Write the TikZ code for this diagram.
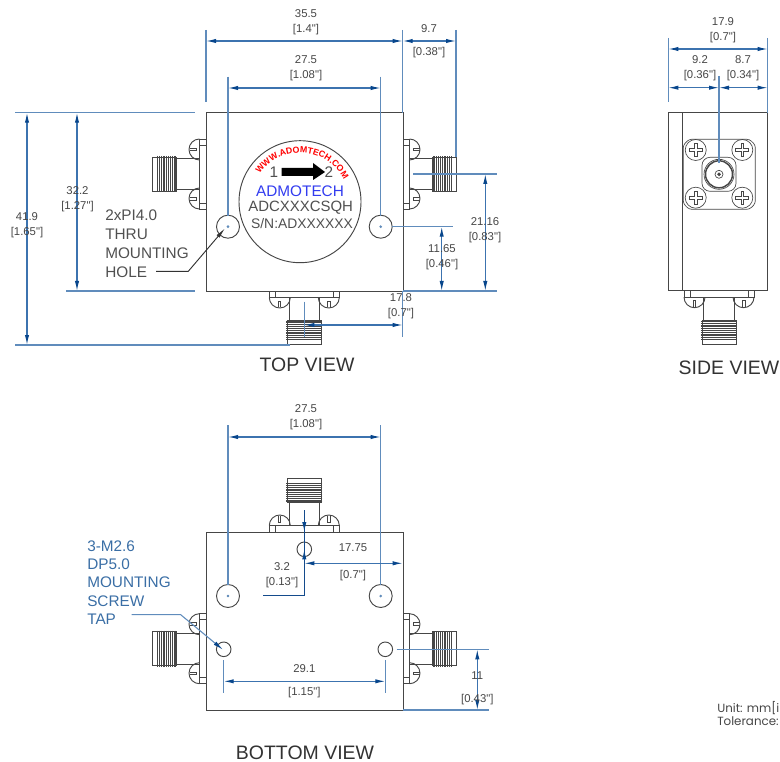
\documentclass[tikz,border=0pt]{standalone}
\usepackage{fontspec}
\newfontfamily\dwgfont{Liberation Sans}
\newfontfamily\notefont{Poppins}
\usetikzlibrary{arrows.meta,decorations.text}
\tikzset{
  body/.style={draw={rgb,255:red,70;green,70;blue,70},line width=0.7pt},
  ext/.style={draw={rgb,255:red,96;green,140;blue,188},line width=0.8pt},
  dimline/.style={draw={rgb,255:red,60;green,115;blue,175},line width=0.8pt,
    {Latex[length=7.5pt,width=3.2pt,color={rgb,255:red,8;green,70;blue,140}]}-{Latex[length=7.5pt,width=3.2pt,color={rgb,255:red,8;green,70;blue,140}]}},
  tipend/.style={draw={rgb,255:red,40;green,100;blue,165},line width=0.8pt,
    -{Latex[length=7.5pt,width=3.2pt,color={rgb,255:red,8;green,70;blue,140}]}},
  dimtext/.style={text={rgb,255:red,70;green,70;blue,70},font=\dwgfont\fontsize{8.5}{11}\selectfont,align=center,inner sep=0pt},
  marktext/.style={text={rgb,255:red,80;green,80;blue,80},font=\dwgfont\fontsize{11.5}{14.2}\selectfont,align=left,inner sep=0pt,anchor=west},
  viewtext/.style={text={rgb,255:red,50;green,50;blue,50},font=\dwgfont\fontsize{14.6}{17}\selectfont,inner sep=0pt},
  pics/portconn/.style={code={
    \draw[body,fill=white] (6.5,-35) arc[start angle=-90,end angle=90,radius=10.5];
    \draw[body,fill=white] (6.5,14) arc[start angle=-90,end angle=90,radius=10.5];
    \draw[body] (16.5,-26) -- (10,-26) -- (10,-23.5) -- (16.5,-23.5) (16.5,23.5) -- (10,23.5) -- (10,26) -- (16.5,26);
    \draw[body,fill=white] (0,-35) rectangle (6.5,35);
    \draw[body] (0,-29) -- (6.5,-29) (0,29) -- (6.5,29);
    \draw[body] (6.5,-15.3) -- (29.5,-15.3) (6.5,15.3) -- (29.5,15.3);
    \draw[body] (29.5,-17) -- (53.5,-17) -- (53.5,17) -- (29.5,17) -- cycle;
    \foreach \t in {31,33.2,35.4,37.6,39.8,42,44.2,46.4,48.6}
      \draw[body,line width=0.9pt] (\t,-18) -- (\t,18);
  }},
  pics/screwhead/.style={code={
    \draw[body,line width=0.5pt] (0,0) circle (10.5);
    \draw[body,line width=0.5pt] (-1.4,-6.5) -- (1.4,-6.5) -- (1.4,-1.4) -- (6.5,-1.4) -- (6.5,1.4) -- (1.4,1.4) -- (1.4,6.5) -- (-1.4,6.5) -- (-1.4,1.4) -- (-6.5,1.4) -- (-6.5,-1.4) -- (-1.4,-1.4) -- cycle;
  }},
}
\begin{document}
\begin{tikzpicture}[x=0.75pt,y=0.75pt,yscale=-1,xscale=1]
\useasboundingbox (0,0) rectangle (780,762);

%Top view body
\pic[rotate=0] at (403,174) {portconn};
\pic[rotate=180] at (206,174) {portconn};
\pic[rotate=-90] at (304.3,291) {portconn};
\draw[body,fill=white] (206,112.7) rectangle (403,291);
\draw[body,fill=white] (300,201.7) circle (61);
\draw[body] (228,226.7) circle (11.5) (380.7,226.7) circle (11.5);
\fill[ext] (228,226.7) circle (0.7) (380.7,226.7) circle (0.7);

%Marking on the round label
\begin{scope}[yscale=-1]
\path[decorate,decoration={text along path,text align=center,
  text={|\dwgfont\fontsize{6.6}{7}\selectfont\bfseries\color{red}|WWW.ADOMTECH.COM}}]
  (257.6,-177.2) arc[start angle=150,end angle=22,radius=49];
\end{scope}
\fill[black] (281.7,168) -- (313,168) -- (313,163) -- (325,172) -- (313,180) -- (313,176) -- (281.7,176) -- cycle;
\node[marktext,anchor=center] (portone) at (274,172) {1};
\node[marktext,anchor=center] (porttwo) at (329,172) {2};
\node[marktext,anchor=center,text={rgb,255:red,50;green,60;blue,240}] (brand) at (300,191) {ADMOTECH};
\node[marktext,anchor=center,font=\dwgfont\fontsize{11.2}{14}\selectfont] (model) at (300.7,207.7) {ADCXXXCSQH};
\node[marktext,anchor=center,font=\dwgfont\fontsize{10.4}{14}\selectfont] (serial) at (302,224) {S/N:ADXXXXXX};

%Top view leader
\node[marktext] (holetext) at (105,244) {2xPI4.0\\THRU\\MOUNTING\\HOLE};
\draw[draw={rgb,255:red,50;green,50;blue,50},line width=0.7pt,-{Latex[length=8pt,width=3pt]}] (156,271.3) -- (188.3,271.3) -- (225,228.3);

%Top view dimensions
\draw[ext] (206,30) -- (206,102) (402.7,30) -- (402.7,112.7) (456,30) -- (456,157);
\draw[dimline] (206,41) -- (402.7,41);
\draw[dimline] (402.7,41) -- (456,41);
\node[dimtext] (widthtop) at (306,22.5) {35.5\\{}[1.4"]};
\node[dimtext] (portout) at (429,41) {9.7\\[6pt]{}[0.38"]};
\draw[ext] (228,76.7) -- (228,215.7) (380.7,76.7) -- (380.7,215.7);
\draw[dimline] (228,88) -- (380.7,88);
\node[dimtext] (holetop) at (306,68.5) {27.5\\{}[1.08"]};
\draw[ext] (15,112.7) -- (195,112.7) (66,291) -- (195,291) (15,345) -- (290,345);
\draw[dimline] (27,112.7) -- (27,345);
\draw[dimline] (77,112.7) -- (77,291);
\node[dimtext] (heightall) at (27,225) {41.9\\{}[1.65"]};
\node[dimtext] (heightbody) at (77.5,199.5) {32.2\\{}[1.27"]};
\draw[ext] (391.7,226.7) -- (452.7,226.7) (413.3,174) -- (496.7,174) (403,291) -- (496.7,291);
\draw[dimline] (441.7,226.7) -- (441.7,291);
\draw[dimline] (485.3,174) -- (485.3,291);
\node[dimtext] (holebase) at (442,257.5) {11.65\\{}[0.46"]};
\node[dimtext] (portbase) at (485,230) {21.16\\{}[0.83"]};
\draw[ext] (304.3,301.7) -- (304.3,336.7) (402.7,291) -- (402.7,336.7);
\draw[dimline] (304.3,325) -- (402.7,325);
\node[dimtext] (portside) at (401,306) {17.8\\{}[0.7"]};
\node[viewtext] (topview) at (307,365) {TOP VIEW};

%Side view
\pic[rotate=-90] at (719,290.7) {portconn};
\draw[body,fill=white] (668.3,112.7) rectangle (767.7,290.7);
\draw[body] (682.3,112.7) -- (682.3,290.7);
\draw[body,line width=0.5pt,rounded corners=2pt] (689,139.3) -- (749.5,139.3) -- (755.3,145) -- (755.3,203.5) -- (749.5,209.3) -- (689,209.3) -- (683.3,203.5) -- (683.3,145) -- cycle;
\pic at (695.7,150) {screwhead};
\pic at (742.3,150) {screwhead};
\pic at (695.7,197.7) {screwhead};
\pic at (742.3,197.7) {screwhead};
\draw[body,line width=0.5pt,rounded corners=6pt] (702,157.3) rectangle (736,191.3);
\draw[body,line width=1.1pt] (719,174.3) circle (13.5);
\draw[body,line width=0.5pt] (719,174.3) circle (15);
\draw[body,line width=0.5pt] (719,174.3) circle (4);
\fill[body,fill={rgb,255:red,70;green,70;blue,70}] (719,174.3) circle (1.3);
\draw[ext] (668.3,38) -- (668.3,102) (767.7,38) -- (767.7,112.7) (719,76) -- (719,163);
\draw[dimline] (668.3,49) -- (767.7,49);
\draw[dimline] (668.3,87.7) -- (719,87.7);
\draw[dimline] (719,87.7) -- (767.7,87.7);
\node[dimtext] (widthside) at (723,30) {17.9\\{}[0.7"]};
\node[dimtext] (sideleft) at (700,68) {9.2\\{}[0.36"]};
\node[dimtext] (sideright) at (743,68) {8.7\\{}[0.34"]};
\node[viewtext] (sideview) at (729,368) {SIDE VIEW};

%Bottom view
\pic[rotate=0] at (403,648.7) {portconn};
\pic[rotate=180] at (206,648.7) {portconn};
\pic[rotate=90] at (304.3,532) {portconn};
\draw[body,fill=white] (206,532) rectangle (403,710);
\draw[body] (228,596) circle (11.5) (380.7,596) circle (11.5);
\fill[ext] (228,596) circle (0.7) (380.7,596) circle (0.7);
\draw[body] (223.7,649.3) circle (7.3) (385.3,649.3) circle (7.3) (304.3,549.3) circle (7.3);

%Bottom view dimensions
\draw[ext] (228,425) -- (228,584.5) (380.7,425) -- (380.7,584.5);
\draw[dimline] (228,437) -- (380.7,437);
\node[dimtext] (holebot) at (306,417.5) {27.5\\{}[1.08"]};
\draw[draw={rgb,255:red,20;green,75;blue,140},line width=0.8pt] (304.3,510) -- (304.3,595.7) -- (262.7,595.7);
\draw[tipend] (304.3,522) -- (304.3,532);
\draw[tipend] (304.3,559) -- (304.3,549.3);
\node[dimtext] (topgap) at (282,575.5) {3.2\\{}[0.13"]};
\draw[dimline] (304.3,563.3) -- (402.7,563.3);
\node[dimtext] (portgap) at (353,562.5) {17.75\\[9pt]{}[0.7"]};
\draw[ext] (223.7,660) -- (223.7,693.3) (385.3,660) -- (385.3,693.3);
\draw[dimline] (223.7,681.3) -- (385.3,681.3);
\node[dimtext] (tapspan) at (304.3,681.5) {29.1\\[6pt]{}[1.15"]};
\draw[ext] (396.7,649.3) -- (489,649.3) (403,710) -- (489,710);
\draw[dimline] (477.3,649.3) -- (477.3,710);
\node[dimtext] (tapbase) at (477.3,688.5) {11\\[6pt]{}[0.43"]};

%Bottom view leader
\node[marktext,text={rgb,255:red,58;green,110;blue,165},font=\dwgfont\fontsize{11.5}{13.7}\selectfont] (taptext) at (87,582.5) {3{-}M2.6\\DP5.0\\MOUNTING\\SCREW\\TAP};
\draw[ext,-{Latex[length=8pt,width=3pt,color={rgb,255:red,8;green,70;blue,140}]}] (131.7,614.7) -- (180.7,614.7) -- (223.3,650);
\node[viewtext] (bottomview) at (305,752.5) {BOTTOM VIEW};

%Notes
\node[dimtext,anchor=west,align=left,font=\notefont\fontsize{8.9}{10}\selectfont] (unitnote) at (717,713.5) {Unit: mm[i\\Tolerance:};
\end{tikzpicture}
\end{document}
